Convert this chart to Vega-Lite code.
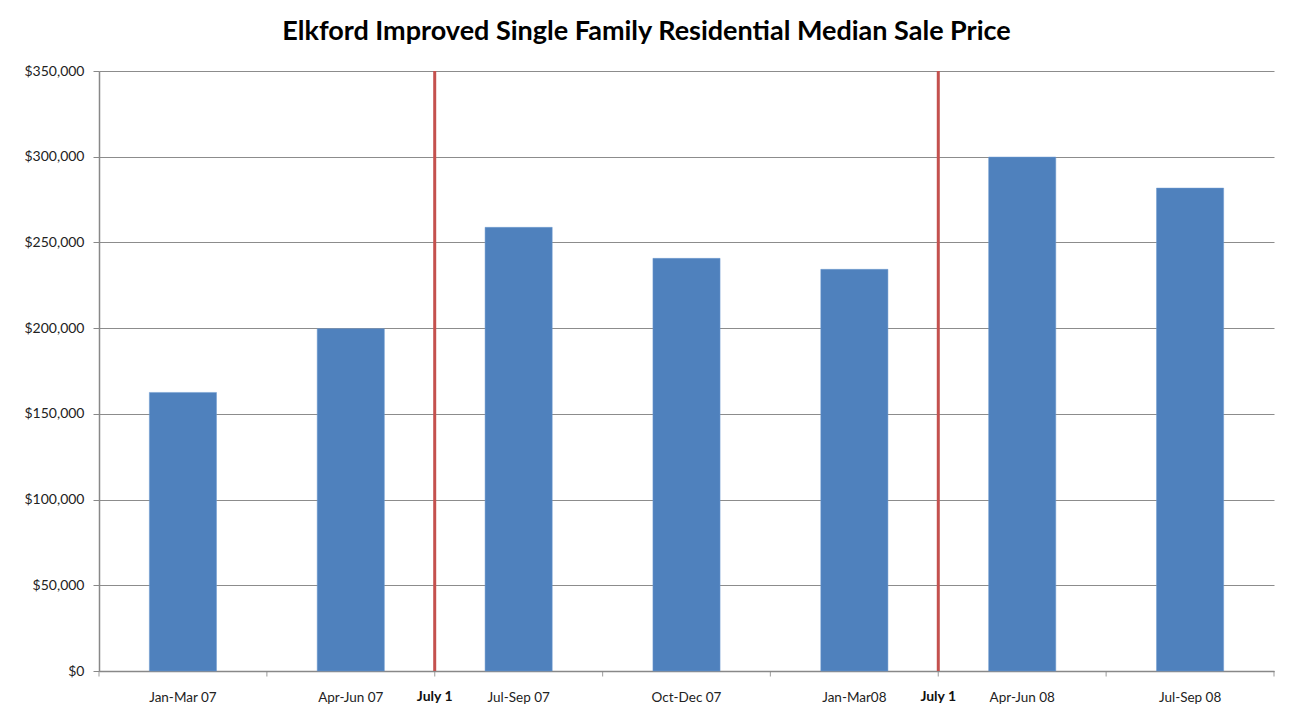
{
  "$schema": "https://vega.github.io/schema/vega-lite/v6.json",
  "autosize": {"type": "none"},
  "padding": {"left": 99, "top": 71, "right": 15, "bottom": 50},
  "width": 1175,
  "height": 600,
  "background": "white",
  "config": {
    "view": {"stroke": null},
    "font": "Lato"
  },
  "title": {
    "text": "Elkford Improved Single Family Residential Median Sale Price",
    "font": "Lato",
    "fontSize": 27,
    "fontWeight": "bold",
    "color": "#000000",
    "anchor": "middle",
    "dx": -40,
    "offset": 18
  },
  "datasets": {
    "sales": [
      {"quarter": "Jan-Mar 07", "price": 162500},
      {"quarter": "Apr-Jun 07", "price": 199700},
      {"quarter": "Jul-Sep 07", "price": 258800},
      {"quarter": "Oct-Dec 07", "price": 240700},
      {"quarter": "Jan-Mar08", "price": 234300},
      {"quarter": "Apr-Jun 08", "price": 299800},
      {"quarter": "Jul-Sep 08", "price": 281700}
    ],
    "markers": [
      {"quarter": "Jul-Sep 07", "label": "July 1"},
      {"quarter": "Apr-Jun 08", "label": "July 1"}
    ]
  },
  "encoding": {
    "x": {
      "field": "quarter",
      "type": "ordinal",
      "sort": null,
      "scale": {
        "domain": ["Jan-Mar 07", "Apr-Jun 07", "Jul-Sep 07", "Oct-Dec 07", "Jan-Mar08", "Apr-Jun 08", "Jul-Sep 08"],
        "paddingInner": 0.6,
        "paddingOuter": 0.3
      }
    }
  },
  "layer": [
    {
      "data": {"name": "sales"},
      "mark": {"type": "bar", "color": "#4F81BD", "stroke": "#6F9AD0", "strokeWidth": 0.5},
      "encoding": {
        "x": {
          "field": "quarter",
          "type": "ordinal",
          "sort": null,
          "axis": {
            "title": null,
            "labelAngle": 0,
            "ticks": false,
            "labelPadding": 19,
            "labelFontSize": 13.5,
            "labelColor": "#222222",
            "labelFont": "Lato",
            "domainColor": "#888888",
            "domainWidth": 1.5
          }
        },
        "y": {
          "field": "price",
          "type": "quantitative",
          "scale": {"domain": [0, 350000], "nice": false},
          "axis": {
            "title": null,
            "values": [0, 50000, 100000, 150000, 200000, 250000, 300000, 350000],
            "format": "$,.0f",
            "labelFontSize": 14,
            "labelColor": "#222222",
            "labelFont": "Lato",
            "labelPadding": 9,
            "tickSize": 6,
            "tickColor": "#888888",
            "domainColor": "#888888",
            "domainWidth": 1.5,
            "grid": true,
            "gridColor": "#8c8c8c",
            "gridWidth": 1
          }
        }
      }
    },
    {
      "data": {"name": "sales"},
      "mark": {"type": "tick", "orient": "vertical", "color": "#888888", "size": 5, "thickness": 1.2, "yOffset": 3},
      "encoding": {
        "x": {"field": "quarter", "type": "ordinal", "sort": null, "bandPosition": -0.75},
        "y": {"datum": 0, "type": "quantitative"}
      }
    },
    {
      "data": {"values": [{"quarter": "Jul-Sep 08"}]},
      "mark": {"type": "tick", "orient": "vertical", "color": "#888888", "size": 5, "thickness": 1.2, "yOffset": 3},
      "encoding": {
        "x": {"field": "quarter", "type": "ordinal", "sort": null, "bandPosition": 1.75},
        "y": {"datum": 0, "type": "quantitative"}
      }
    },
    {
      "data": {"name": "markers"},
      "mark": {"type": "rule", "color": "#C4514E", "strokeWidth": 3},
      "encoding": {
        "x": {"field": "quarter", "type": "ordinal", "sort": null, "bandPosition": -0.75},
        "y": {"datum": 0, "type": "quantitative"},
        "y2": {"datum": 350000}
      }
    },
    {
      "data": {"name": "markers"},
      "mark": {"type": "text", "fontWeight": "bold", "fontSize": 14, "font": "Lato", "color": "#111111", "baseline": "middle", "dy": 26},
      "encoding": {
        "x": {"field": "quarter", "type": "ordinal", "sort": null, "bandPosition": -0.75},
        "y": {"datum": 0, "type": "quantitative"},
        "text": {"field": "label"}
      }
    }
  ]
}
